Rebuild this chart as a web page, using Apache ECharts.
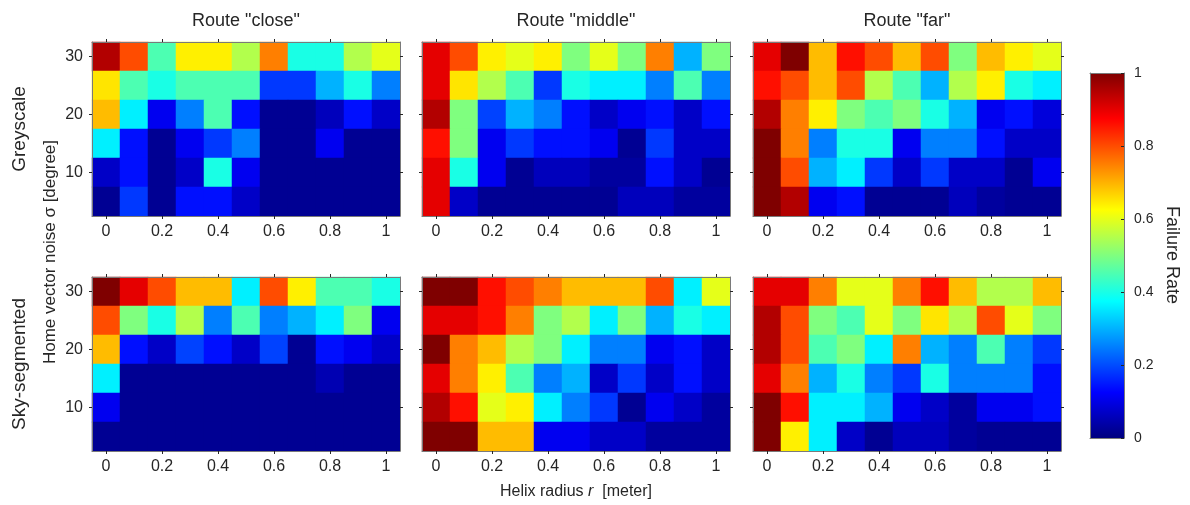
<!DOCTYPE html>
<html>
<head>
<meta charset="utf-8">
<script src="https://cdn.jsdelivr.net/npm/echarts@6/dist/echarts.min.js"></script>
<style>html,body{margin:0;padding:0;background:#fff;}#c{width:1190px;height:505px;}</style>
</head>
<body>
<div id="c"></div>
<script>
// ---- data ----
const xLabels = ['0','0.1','0.2','0.3','0.4','0.5','0.6','0.7','0.8','0.9','1'];
const yLabels = ['5','10','15','20','25','30'];
const routes = ['Route "close"', 'Route "middle"', 'Route "far"'];
const conditions = ['Greyscale', 'Sky-segmented'];
const colorbarTicks = [0, 0.2, 0.4, 0.6, 0.8, 1];

// rows listed from top (sigma = 30) to bottom (sigma = 5)
const greyClose = [
  [0.95,0.80,0.45,0.64,0.64,0.55,0.75,0.40,0.40,0.55,0.60],
  [0.65,0.45,0.40,0.45,0.45,0.45,0.18,0.18,0.30,0.40,0.25],
  [0.69,0.36,0.11,0.25,0.45,0.14,0.02,0.02,0.06,0.14,0.07],
  [0.36,0.14,0.02,0.11,0.18,0.25,0.02,0.02,0.11,0.02,0.02],
  [0.07,0.14,0.02,0.07,0.40,0.11,0.02,0.02,0.02,0.02,0.02],
  [0.02,0.18,0.02,0.14,0.14,0.07,0.02,0.02,0.02,0.02,0.02]
];
const greyMiddle = [
  [0.90,0.80,0.64,0.60,0.64,0.50,0.60,0.50,0.75,0.30,0.50],
  [0.90,0.65,0.55,0.45,0.18,0.40,0.36,0.36,0.25,0.45,0.25],
  [0.95,0.50,0.19,0.30,0.25,0.14,0.07,0.11,0.14,0.07,0.14],
  [0.86,0.50,0.11,0.18,0.14,0.14,0.11,0.02,0.18,0.07,0.07],
  [0.90,0.40,0.11,0.02,0.06,0.06,0.03,0.03,0.14,0.07,0.02],
  [0.90,0.07,0.02,0.02,0.02,0.02,0.02,0.06,0.06,0.03,0.03]
];
const greyFar = [
  [0.90,1.00,0.69,0.86,0.80,0.69,0.80,0.50,0.69,0.64,0.60],
  [0.86,0.80,0.69,0.80,0.55,0.45,0.30,0.55,0.64,0.40,0.36],
  [0.95,0.75,0.64,0.50,0.45,0.50,0.40,0.30,0.11,0.14,0.09],
  [1.00,0.75,0.25,0.40,0.40,0.11,0.25,0.25,0.14,0.07,0.07],
  [1.00,0.80,0.30,0.36,0.18,0.07,0.18,0.07,0.07,0.02,0.11],
  [1.00,0.95,0.11,0.14,0.02,0.02,0.02,0.06,0.03,0.02,0.02]
];
const skyClose = [
  [1.00,0.90,0.80,0.69,0.69,0.36,0.80,0.64,0.45,0.45,0.40],
  [0.80,0.50,0.40,0.55,0.25,0.45,0.25,0.30,0.36,0.50,0.11],
  [0.69,0.14,0.07,0.19,0.14,0.07,0.19,0.02,0.14,0.11,0.07],
  [0.36,0.02,0.02,0.02,0.02,0.02,0.02,0.02,0.05,0.02,0.02],
  [0.11,0.02,0.02,0.02,0.02,0.02,0.02,0.02,0.02,0.02,0.02],
  [0.02,0.02,0.02,0.02,0.02,0.02,0.02,0.02,0.02,0.02,0.02]
];
const skyMiddle = [
  [1.00,1.00,0.86,0.80,0.75,0.69,0.69,0.69,0.80,0.36,0.60],
  [0.90,0.90,0.86,0.75,0.50,0.55,0.36,0.50,0.30,0.40,0.36],
  [1.00,0.75,0.69,0.55,0.50,0.36,0.25,0.25,0.11,0.14,0.07],
  [0.90,0.75,0.64,0.45,0.25,0.30,0.07,0.18,0.07,0.14,0.07],
  [0.95,0.86,0.60,0.64,0.36,0.25,0.18,0.02,0.11,0.07,0.03],
  [1.00,1.00,0.69,0.69,0.11,0.11,0.07,0.07,0.03,0.03,0.03]
];
const skyFar = [
  [0.90,0.90,0.75,0.60,0.60,0.75,0.86,0.69,0.55,0.55,0.69],
  [0.95,0.80,0.50,0.45,0.60,0.50,0.65,0.55,0.80,0.60,0.50],
  [0.95,0.80,0.45,0.50,0.36,0.75,0.30,0.25,0.45,0.25,0.18],
  [0.90,0.75,0.30,0.40,0.25,0.18,0.40,0.25,0.25,0.25,0.14],
  [1.00,0.86,0.36,0.36,0.30,0.11,0.07,0.03,0.11,0.11,0.14],
  [1.00,0.64,0.36,0.07,0.02,0.06,0.06,0.03,0.02,0.02,0.02]
];
const panels = [greyClose, greyMiddle, greyFar, skyClose, skyMiddle, skyFar];

// ---- layout / style ----
const FONT = 'Liberation Sans, Arial, Helvetica, sans-serif';
const TXT = '#262626';
const BORDER = '#7a7a7a';
const jet = ['#00007F','#0000FF','#007FFF','#00FFFF','#7FFF7F','#FFFF00','#FF7F00','#FF0000','#7F0000'];
const lefts = [92, 422, 753];
const W = 308;
const tops = [42, 277];
const heights = [174, 174];

const grids = [], xAxes = [], yAxes = [], series = [];
const evenX = (i) => i % 2 === 0;
const oddY = (i) => i % 2 === 1;

panels.forEach((mat, p) => {
  const r = Math.floor(p / 3), c = p % 3;
  grids.push({left: lefts[c], top: tops[r], width: W, height: heights[r], containLabel: false});
  const base = {
    type: 'category', gridIndex: p, z: 5,
    axisLine: {show: true, onZero: false, lineStyle: {color: BORDER, width: 1}},
    splitLine: {show: false}
  };
  const xi = xAxes.length;
  xAxes.push(Object.assign({}, base, {
    data: xLabels, position: 'bottom',
    axisTick: {show: true, alignWithLabel: true, interval: evenX, length: 3, lineStyle: {color: TXT}},
    axisLabel: {show: true, interval: evenX, margin: 8, color: TXT, fontSize: 16, fontFamily: FONT}
  }));
  xAxes.push(Object.assign({}, base, {
    data: xLabels, position: 'top',
    axisTick: {show: true, alignWithLabel: true, interval: evenX, length: 3, lineStyle: {color: TXT}},
    axisLabel: {show: false}
  }));
  const yi = yAxes.length;
  yAxes.push(Object.assign({}, base, {
    data: yLabels, position: 'left',
    axisTick: {show: true, alignWithLabel: true, interval: oddY, length: 3, lineStyle: {color: TXT}},
    axisLabel: {show: c === 0, interval: oddY, margin: 9, color: TXT, fontSize: 16, fontFamily: FONT}
  }));
  yAxes.push(Object.assign({}, base, {
    data: yLabels, position: 'right',
    axisTick: {show: true, alignWithLabel: true, interval: oddY, length: 3, lineStyle: {color: TXT}},
    axisLabel: {show: false}
  }));
  const data = [];
  mat.forEach((row, ri) => {
    row.forEach((v, xIdx) => data.push([xIdx, yLabels.length - 1 - ri, v]));
  });
  series.push({
    type: 'heatmap', xAxisIndex: xi, yAxisIndex: yi, data: data,
    emphasis: {disabled: true}, progressive: 0, z: 2
  });
});

// colorbar axis grid
const cbLeft = 1090, cbTop = 73, cbW = 34, cbH = 365;
const cbGrid = grids.length;
grids.push({left: cbLeft, top: cbTop, width: cbW, height: cbH});
const cbAxisBase = {type: 'value', gridIndex: cbGrid, min: colorbarTicks[0], max: colorbarTicks[colorbarTicks.length - 1], z: 10,
  axisLine: {show: true, onZero: false, lineStyle: {color: BORDER}}, axisTick: {show: false}, axisLabel: {show: false}, splitLine: {show: false}};
xAxes.push(Object.assign({}, cbAxisBase, {position: 'bottom'}));
xAxes.push(Object.assign({}, cbAxisBase, {position: 'top'}));
yAxes.push(Object.assign({}, cbAxisBase, {position: 'left', interval: 0.2}));
yAxes.push(Object.assign({}, cbAxisBase, {position: 'right', interval: 0.2,
  axisTick: {show: true, inside: true, length: 3, lineStyle: {color: TXT}},
  axisLabel: {show: true, margin: 10, color: TXT, fontSize: 14, fontFamily: FONT,
    formatter: (v) => String(+(+v).toFixed(1))}}));

const graphic = [];
// colorbar gradient (style element, drawn under the colorbar axes)
graphic.push({type: 'rect', z: 1, shape: {x: cbLeft, y: cbTop, width: cbW, height: cbH},
  style: {fill: new echarts.graphic.LinearGradient(0, 1, 0, 0,
    jet.map((col, i) => ({offset: i / (jet.length - 1), color: col})))}});
routes.forEach((t, c) => {
  graphic.push({type: 'text', x: lefts[c] + W / 2, y: 21,
    style: {text: t, fill: TXT, font: '18px ' + FONT, align: 'center', verticalAlign: 'middle'}});
});
conditions.forEach((t, r) => {
  graphic.push({type: 'text', x: 20, y: tops[r] + heights[r] / 2, rotation: Math.PI / 2,
    style: {text: t, fill: TXT, font: '19px ' + FONT, align: 'center', verticalAlign: 'middle'}});
});
graphic.push({type: 'text', x: 50, y: 252, rotation: Math.PI / 2,
  style: {text: 'Home vector noise σ [degree]', fill: TXT, font: '17px ' + FONT, align: 'center', verticalAlign: 'middle'}});
graphic.push({type: 'text', x: lefts[1] + W / 2, y: 492,
  style: {text: '{a|Helix radius }{b|r}{a|  [meter]}', align: 'center', verticalAlign: 'middle',
    rich: {a: {fill: TXT, fontSize: 16, fontFamily: FONT}, b: {fill: TXT, fontSize: 16, fontFamily: FONT, fontStyle: 'italic'}}}});
graphic.push({type: 'text', x: 1172, y: 255, rotation: -Math.PI / 2,
  style: {text: 'Failure Rate', fill: TXT, font: '18px ' + FONT, align: 'center', verticalAlign: 'middle'}});

const chart = echarts.init(document.getElementById('c'), null, {renderer: 'canvas'});
chart.setOption({
  animation: false,
  backgroundColor: '#ffffff',
  grid: grids,
  xAxis: xAxes,
  yAxis: yAxes,
  visualMap: {
    type: 'continuous', min: 0, max: 1, show: false, seriesIndex: [0,1,2,3,4,5],
    inRange: {color: jet}
  },
  series: series,
  graphic: graphic
});
</script>
</body>
</html>
